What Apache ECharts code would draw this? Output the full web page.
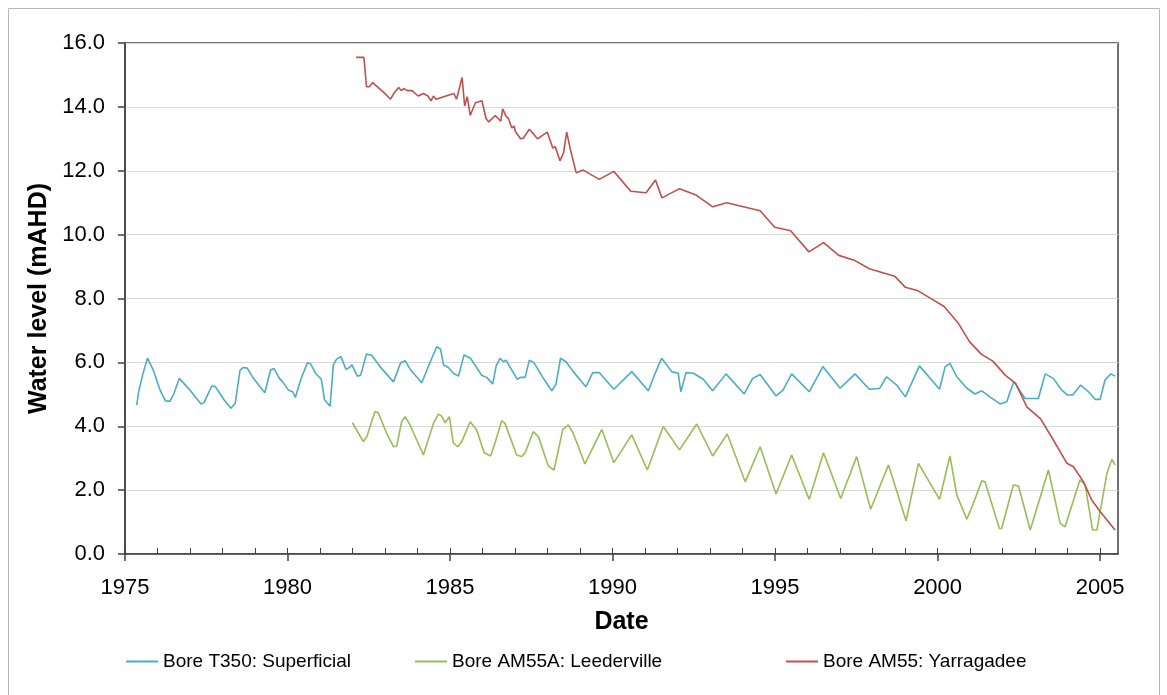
<!DOCTYPE html>
<html>
<head>
<meta charset="utf-8">
<script src="https://cdn.jsdelivr.net/npm/echarts@6/dist/echarts.min.js"></script>
<style>
html,body{margin:0;padding:0;background:#fff;}
#chart{width:1167px;height:695px;}
</style>
</head>
<body>
<div id="chart"></div>
<script>
// ---- Data (decimal years, water level mAHD) ----
const seriesNames = ['Bore T350: Superficial', 'Bore AM55A: Leederville', 'Bore AM55: Yarragadee'];
const xTickYears = [1975, 1980, 1985, 1990, 1995, 2000, 2005];
const xMinorYears = [1975,1976,1977,1978,1979,1980,1981,1982,1983,1984,1985,1986,1987,1988,1989,1990,1991,1992,1993,1994,1995,1996,1997,1998,1999,2000,2001,2002,2003,2004,2005];

const t350Dates = [1975.36,1975.42,1975.46,1975.54,1975.69,1975.87,1976.08,1976.24,1976.38,1976.51,1976.67,1977.00,1977.34,1977.43,1977.67,1977.78,1978.05,1978.26,1978.39,1978.54,1978.64,1978.76,1978.95,1979.30,1979.48,1979.58,1979.75,1979.85,1980.03,1980.16,1980.24,1980.41,1980.61,1980.71,1980.86,1981.04,1981.14,1981.31,1981.41,1981.51,1981.64,1981.80,1981.90,1981.98,1982.15,1982.25,1982.43,1982.59,1982.85,1983.26,1983.48,1983.62,1983.79,1984.13,1984.38,1984.59,1984.71,1984.80,1984.95,1985.10,1985.26,1985.43,1985.63,1985.97,1986.13,1986.31,1986.42,1986.54,1986.64,1986.72,1987.07,1987.17,1987.31,1987.44,1987.58,1987.89,1988.13,1988.26,1988.40,1988.57,1988.79,1989.18,1989.39,1989.59,1990.04,1990.59,1991.10,1991.31,1991.51,1991.82,1992.02,1992.10,1992.26,1992.49,1992.79,1993.08,1993.49,1994.05,1994.31,1994.54,1995.03,1995.24,1995.51,1996.05,1996.47,1997.00,1997.46,1997.90,1998.21,1998.43,1998.74,1999.01,1999.44,2000.06,2000.23,2000.38,2000.59,2000.90,2001.15,2001.36,2001.62,2001.92,2002.13,2002.23,2002.35,2002.69,2003.10,2003.31,2003.56,2003.82,2003.99,2004.16,2004.40,2004.64,2004.85,2005.00,2005.15,2005.33,2005.46];
const t350Levels = [4.66,5.08,5.13,5.60,6.13,5.76,5.13,4.80,4.78,5.03,5.50,5.13,4.70,4.74,5.26,5.24,4.82,4.56,4.72,5.76,5.84,5.82,5.50,5.05,5.76,5.81,5.50,5.39,5.13,5.08,4.90,5.47,5.99,5.95,5.66,5.47,4.82,4.63,5.92,6.10,6.18,5.78,5.84,5.92,5.57,5.60,6.26,6.22,5.86,5.39,5.99,6.05,5.76,5.36,5.99,6.49,6.41,5.92,5.84,5.66,5.57,6.23,6.13,5.60,5.53,5.32,5.89,6.13,6.02,6.07,5.47,5.53,5.53,6.07,5.99,5.47,5.11,5.32,6.13,6.02,5.71,5.24,5.68,5.68,5.16,5.71,5.11,5.66,6.13,5.71,5.66,5.08,5.68,5.66,5.47,5.11,5.64,5.01,5.50,5.62,4.95,5.12,5.64,5.08,5.87,5.19,5.64,5.16,5.18,5.55,5.29,4.92,5.89,5.16,5.86,5.97,5.55,5.19,5.01,5.11,4.91,4.70,4.77,5.08,5.39,4.87,4.87,5.64,5.50,5.13,4.98,4.98,5.29,5.08,4.84,4.84,5.45,5.64,5.57];

const am55aDates = [1982.00,1982.33,1982.44,1982.69,1982.79,1983.05,1983.26,1983.36,1983.51,1983.62,1983.77,1984.18,1984.49,1984.64,1984.74,1984.85,1984.98,1985.10,1985.24,1985.36,1985.62,1985.82,1986.05,1986.25,1986.38,1986.59,1986.69,1987.05,1987.20,1987.31,1987.56,1987.72,1988.02,1988.20,1988.47,1988.64,1988.79,1989.15,1989.67,1990.04,1990.59,1991.07,1991.56,1992.06,1992.59,1993.08,1993.53,1994.08,1994.54,1995.03,1995.51,1996.05,1996.49,1997.02,1997.51,1997.94,1998.49,1999.03,1999.41,2000.06,2000.38,2000.59,2000.90,2001.10,2001.36,2001.46,2001.90,2001.97,2002.33,2002.49,2002.85,2003.41,2003.77,2003.92,2004.38,2004.54,2004.77,2004.90,2005.21,2005.36,2005.46];
const am55aLevels = [4.11,3.52,3.67,4.46,4.42,3.78,3.36,3.38,4.14,4.30,4.04,3.10,4.09,4.38,4.32,4.11,4.30,3.47,3.36,3.52,4.14,3.88,3.17,3.07,3.47,4.17,4.09,3.10,3.05,3.17,3.83,3.67,2.76,2.63,3.90,4.04,3.78,2.82,3.90,2.86,3.73,2.63,3.99,3.26,4.07,3.07,3.76,2.26,3.36,1.88,3.10,1.71,3.17,1.74,3.05,1.40,2.79,1.04,2.84,1.71,3.07,1.85,1.09,1.59,2.29,2.26,0.80,0.80,2.16,2.13,0.75,2.63,0.96,0.85,2.32,2.16,0.75,0.75,2.53,2.96,2.79];

const am55Dates = [1982.11,1982.35,1982.43,1982.52,1982.62,1982.95,1983.17,1983.28,1983.42,1983.50,1983.58,1983.69,1983.83,1984.02,1984.18,1984.32,1984.41,1984.49,1984.57,1984.80,1985.12,1985.20,1985.37,1985.45,1985.53,1985.62,1985.78,1985.98,1986.11,1986.19,1986.39,1986.56,1986.62,1986.72,1986.80,1986.90,1986.97,1987.01,1987.17,1987.25,1987.44,1987.69,1987.99,1988.16,1988.24,1988.38,1988.49,1988.59,1988.71,1988.88,1989.10,1989.59,1990.04,1990.56,1991.03,1991.32,1991.52,1992.06,1992.55,1993.08,1993.51,1994.54,1994.99,1995.48,1996.04,1996.49,1996.96,1997.43,1997.90,1998.68,1999.01,1999.40,1999.81,2000.20,2000.62,2000.98,2001.35,2001.70,2002.08,2002.40,2002.75,2003.17,2003.56,2003.98,2004.18,2004.49,2004.74,2005.00,2005.46];
const am55Levels = [15.55,15.55,14.63,14.63,14.76,14.46,14.24,14.44,14.61,14.51,14.57,14.51,14.51,14.34,14.42,14.34,14.19,14.34,14.24,14.32,14.42,14.24,14.92,14.03,14.32,13.73,14.13,14.19,13.63,13.53,13.73,13.55,13.94,13.71,13.63,13.34,13.40,13.23,13.00,13.02,13.30,13.00,13.21,12.71,12.75,12.31,12.55,13.21,12.63,11.94,12.02,11.73,11.98,11.36,11.31,11.71,11.15,11.44,11.25,10.87,11.00,10.75,10.23,10.12,9.46,9.75,9.35,9.20,8.93,8.70,8.35,8.24,7.99,7.75,7.25,6.65,6.25,6.04,5.60,5.34,4.60,4.23,3.57,2.84,2.73,2.26,1.69,1.33,0.75];

const colors = ['#4bacc6', '#9bbb59', '#c0504d'];

function zip(xs, ys) { return xs.map((x, i) => [x, ys[i]]); }

const chart = echarts.init(document.getElementById('chart'), null, { renderer: 'canvas' });
const FONT = 'Liberation Sans, Arial, sans-serif';
const X_MIN = 1975, X_MAX = 2005.55;

const legendCommon = {
  orient: 'horizontal', top: 652, padding: 0, itemWidth: 32, itemHeight: 2, icon: 'rect',
  textStyle: { fontFamily: FONT, fontSize: 19, color: '#000' }, selectedMode: false
};

const option = {
  animation: false,
  backgroundColor: '#fff',
  graphic: [{
    type: 'rect', silent: true,
    shape: { x: 8.5, y: 8.5, width: 1151, height: 720 },
    style: { fill: 'none', stroke: '#b8b8b8', lineWidth: 1 }
  }],
  grid: {
    left: 125, top: 43, width: 993, height: 511,
    show: true, borderColor: '#404040', borderWidth: 1.5, backgroundColor: 'transparent'
  },
  legend: [
    Object.assign({}, legendCommon, { left: 126, data: [seriesNames[0]] }),
    Object.assign({}, legendCommon, { left: 415, data: [seriesNames[1]] }),
    Object.assign({}, legendCommon, { left: 786, data: [seriesNames[2]] })
  ],
  xAxis: [{
    type: 'value', min: X_MIN, max: X_MAX, position: 'bottom',
    name: 'Date', nameLocation: 'middle', nameGap: 56,
    nameTextStyle: { fontFamily: FONT, fontSize: 25, fontWeight: 'bold', color: '#000' },
    axisLine: { show: true, lineStyle: { color: '#404040', width: 1.5 } },
    axisTick: { show: true, length: 7, inside: false, customValues: xTickYears, lineStyle: { color: '#404040', width: 1.5 } },
    axisLabel: { customValues: xTickYears, margin: 23, fontFamily: FONT, fontSize: 22, color: '#000', formatter: v => String(Math.round(v)) },
    splitLine: { show: false }
  }, {
    type: 'value', min: X_MIN, max: X_MAX, position: 'bottom',
    axisLine: { show: false },
    axisTick: { show: true, length: 6, inside: true, customValues: xMinorYears, lineStyle: { color: '#404040', width: 1 } },
    axisLabel: { show: false },
    splitLine: { show: false }
  }],
  yAxis: {
    type: 'value', min: 0, max: 16, interval: 2,
    name: 'Water level (mAHD)', nameLocation: 'middle', nameGap: 71, nameRotate: 90,
    nameTextStyle: { fontFamily: FONT, fontSize: 25, fontWeight: 'bold', color: '#000' },
    axisLine: { show: true, lineStyle: { color: '#404040', width: 1.5 } },
    axisTick: { show: true, length: 7, inside: false, lineStyle: { color: '#404040', width: 1.5 } },
    axisLabel: { margin: 20, fontFamily: FONT, fontSize: 22, color: '#000', formatter: v => v.toFixed(1) },
    splitLine: { show: true, lineStyle: { color: '#d9d9d9', width: 1.2 } }
  },
  series: [
    { name: seriesNames[0], type: 'line', xAxisIndex: 0, data: zip(t350Dates, t350Levels), showSymbol: false, symbol: 'none',
      lineStyle: { color: colors[0], width: 1.6 }, itemStyle: { color: colors[0] } },
    { name: seriesNames[1], type: 'line', xAxisIndex: 0, data: zip(am55aDates, am55aLevels), showSymbol: false, symbol: 'none',
      lineStyle: { color: colors[1], width: 1.6 }, itemStyle: { color: colors[1] } },
    { name: seriesNames[2], type: 'line', xAxisIndex: 0, data: zip(am55Dates, am55Levels), showSymbol: false, symbol: 'none',
      lineStyle: { color: colors[2], width: 1.6 }, itemStyle: { color: colors[2] } }
  ]
};
chart.setOption(option);
</script>
</body>
</html>
